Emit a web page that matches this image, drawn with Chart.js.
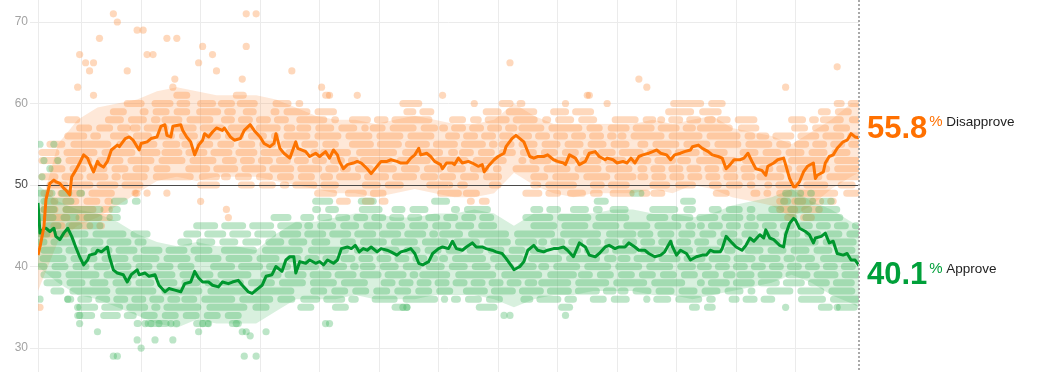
<!DOCTYPE html>
<html><head><meta charset="utf-8">
<script src="https://cdn.jsdelivr.net/npm/chart.js@4.4.1/dist/chart.umd.min.js"></script>
<style>html,body{margin:0;padding:0;background:#fff;overflow:hidden}#wrap{width:1059px;height:372px}</style>
</head><body><div id="wrap"><canvas id="c" width="1059" height="372"></canvas></div>
<script>
// ---------------- data ----------------
const yTicks = [30, 40, 50, 60, 70];
const gridDays = [0, 22, 52, 82, 112, 142, 172, 202, 232, 262, 292, 322, 352, 382];
const lastDay = 414;
const latestDisapprove = 55.8;
const latestApprove = 40.1;
const disapproveLabel = "Disapprove";
const approveLabel = "Approve";

const disapproveTrend = [[0,41.4],[1,42.4],[3,44.9],[4,48.2],[6,50.2],[8,50.6],[9,50.4],[11,50.2],[13,49.6],[14,49.4],[16,48.8],[17,51.0],[19,51.8],[21,52.7],[23,53.7],[25,53.3],[26,52.7],[28,51.6],[30,52.9],[31,52.5],[33,52.2],[35,52.9],[37,54.3],[40,54.9],[41,54.7],[44,55.7],[46,55.9],[48,55.5],[51,54.3],[52,55.1],[55,55.3],[57,55.7],[60,55.9],[62,57.2],[64,57.4],[65,56.1],[67,55.9],[68,57.2],[72,57.4],[73,56.7],[75,55.9],[77,55.3],[79,53.7],[81,54.9],[83,55.5],[84,56.3],[86,55.9],[88,56.5],[90,57.0],[93,56.7],[94,57.0],[97,55.9],[99,55.5],[102,55.7],[104,56.7],[107,57.4],[109,56.7],[112,55.9],[114,55.1],[117,54.7],[119,55.1],[120,56.3],[122,54.5],[124,53.9],[127,53.3],[130,55.3],[131,54.5],
[135,54.1],[137,53.5],[140,53.9],[142,53.5],[145,54.1],[147,53.3],[149,54.3],[151,53.7],[152,52.9],[154,52.0],[156,52.5],[159,52.7],[161,52.9],[163,52.7],[166,52.0],[168,51.4],[171,52.3],[173,52.9],[176,52.9],[178,53.1],[181,52.9],[183,52.7],[186,52.7],[188,53.3],[190,53.7],[192,54.5],[193,53.7],[196,53.9],[198,53.5],[200,52.9],[203,52.5],[204,52.0],[206,52.7],[209,52.7],[210,52.5],[212,53.3],[214,52.7],[217,52.9],[219,52.7],[222,52.3],[224,52.5],[225,51.6],[227,52.3],[230,53.1],[232,53.5],[235,53.9],[236,54.7],[239,55.7],[241,56.1],[243,55.7],[245,55.3],[246,54.7],[248,53.5],[250,53.3],[252,53.5],[255,53.5],[257,53.7],[260,53.1],[262,52.9],[265,52.7],[266,52.5],[268,53.7],[271,53.3],[273,52.5],
[276,52.9],[278,53.9],[281,54.1],[283,53.5],[286,53.1],[287,53.3],[290,53.1],[292,52.7],[295,52.9],[297,52.7],[299,53.3],[301,52.7],[303,53.5],[305,53.7],[308,53.9],[310,54.1],[312,54.3],[314,53.9],[317,53.7],[319,53.1],[321,53.7],[324,53.9],[326,54.1],[329,54.3],[330,54.7],[333,54.9],[335,54.5],[338,54.1],[340,53.7],[343,53.5],[345,53.3],[347,52.0],[349,52.5],[351,53.1],[354,53.1],[356,53.3],[358,53.9],[360,52.9],[362,52.0],[365,51.8],[367,51.2],[368,52.3],[371,52.7],[373,53.1],[376,53.3],[377,52.5],[379,50.8],[381,49.8],[382,49.8],[384,50.4],[386,51.6],[388,52.3],[391,52.7],[392,50.8],[393,51.2],[396,51.6],[397,52.7],[399,53.5],[401,53.7],[403,54.5],[406,55.3],[408,55.5],[410,56.3],[412,55.9],[414,55.8]];

const approveTrend = [[0,47.8],[1,44.1],[3,44.7],[4,44.7],[6,44.3],[8,44.7],[9,43.7],[11,43.3],[13,44.1],[15,44.7],[17,43.7],[19,42.4],[21,41.2],[23,40.2],[25,40.8],[26,41.4],[29,41.6],[30,42.0],[32,41.8],[35,42.4],[36,41.2],[38,39.6],[40,39.2],[43,39.0],[45,38.1],[47,39.0],[50,39.6],[51,39.0],[54,39.2],[56,38.8],[59,39.0],[61,37.7],[64,36.9],[66,37.3],[69,37.1],[72,36.9],[74,37.9],[77,38.1],[79,39.4],[81,38.6],[83,38.1],[86,38.1],[88,37.7],[91,37.5],[93,38.1],[96,37.9],[98,38.1],[101,38.3],[103,37.7],[106,36.9],[108,36.7],[110,37.1],[113,37.7],[115,38.8],[118,39.0],[120,40.0],[123,39.4],[125,40.8],[127,41.2],[129,41.2],[130,39.2],
[132,40.6],[135,40.4],[137,40.8],[140,40.4],[142,40.6],[144,40.2],[146,40.8],[149,40.4],[151,40.8],[153,42.2],[156,42.4],[158,42.2],[160,42.6],[162,41.8],[164,42.2],[166,42.0],[168,42.4],[171,41.8],[173,42.2],[176,42.0],[178,41.8],[181,41.4],[183,41.8],[186,42.0],[188,42.2],[190,41.6],[192,40.4],[194,40.2],[197,40.6],[199,41.6],[202,42.2],[204,42.4],[207,42.2],[209,43.1],[211,42.2],[214,42.0],[216,42.4],[219,42.9],[221,42.4],[224,42.4],[226,42.2],[229,42.0],[231,41.8],[234,41.6],[236,41.0],[239,40.0],[240,39.6],[243,40.0],[245,40.6],[247,42.0],[250,42.6],[252,42.0],[255,41.8],[257,42.0],[260,42.2],[262,42.2],[265,42.4],[267,42.0],[270,41.2],
[273,42.9],[276,42.4],[278,41.4],[281,41.2],[283,41.6],[286,42.4],[288,42.6],[291,42.2],[293,42.4],[296,42.4],[298,42.9],[301,42.4],[303,42.0],[306,42.0],[308,41.6],[311,41.2],[314,41.4],[316,41.8],[319,43.1],[320,42.4],[322,41.4],[324,42.0],[327,41.6],[329,40.8],[332,41.2],[335,41.4],[337,41.4],[339,42.0],[341,41.8],[344,41.8],[345,42.2],[347,43.7],[350,42.9],[352,42.4],[355,42.0],[357,42.6],[359,43.5],[361,43.1],[364,43.9],[366,43.5],[367,44.5],[369,43.5],[371,43.3],[374,42.6],[376,42.4],[377,43.9],[379,45.3],[381,45.9],[382,45.7],[384,44.7],[387,44.3],[389,43.9],[391,42.9],[392,43.5],[395,43.7],[397,44.1],[399,42.9],[401,43.1],[403,41.6],[406,41.4],[408,41.6],[410,40.8],[412,40.8],[414,40.1]];

const bandDays =        [0, 10, 20, 30, 40, 50, 60, 70, 80, 90, 100,110,120,130,140,150,160,170,180,190,200,210,220,230,240,250,260,270,280,290,300,310,320,330,340,350,360,370,380,390,400,410,414];
const disapproveHigh =  [46, 55, 58, 59.5,60, 60.5,61.5,62, 61.5,61, 61, 61, 60.5,59.5,58.5,58, 58, 57.5,58, 58.5,58, 57.5,57.5,58, 60, 58.5,57.5,57.5,57.5,57.5,57.5,58, 57.5,58, 58.5,57, 56.5,56, 55, 56.5,58, 60, 60];
const disapproveLow =   [37, 43, 45, 46, 47.5,49, 50.5,51, 50.5,51, 51, 51, 50.5,50, 49.5,49, 49, 48.5,49, 49.5,49, 48.5,48.5,49, 51.5,50, 49, 48.5,49, 49, 49, 49.5,49, 50, 49.5,48.5,48, 47.5,46, 47.5,49.5,51, 51.5];
const approveHigh =     [50, 48, 47, 46.5,45.5,44, 43, 42.5,43, 42.5,42.5,42, 44, 45.5,45.5,46, 46.5,46.5,46, 46, 46.5,46.5,47, 46.5,45, 46.5,46.5,46.5,46.5,47, 47, 46.5,46.5,46, 46.5,47.5,48, 48.5,49.5,48, 47, 45.5,45];
const approveLow =      [40, 38, 36.5,36, 35, 34, 33, 32.5,33.5,33, 33, 33, 34.5,36, 36, 36, 36.5,36, 36, 36, 36.5,36.5,36.5,36, 35, 36, 36.5,36.5,37, 37, 37, 36.5,36.5,36, 36.5,37, 37.5,38, 39, 38, 36.5,35.5,35];

// poll rows: [value, first day, last day] of runs of polls at the same value
const disapprovePollRows = [[61,70,75],[61,100,104],[61,140,146],
[60,45,52],[60,58,75],[60,82,88],[60,92,98],[60,102,110],[60,117,132],[60,184,192],[60,232,244],[60,315,345],[60,403,413],
[59,38,48],[59,53,75],[59,78,98],[59,105,113],[59,119,149],[59,186,199],[59,226,250],[59,260,281],[59,318,343],[59,395,413],
[58,15,20],[58,35,60],[58,64,90],[58,94,127],[58,132,150],[58,154,175],[58,180,200],[58,205,222],[58,226,252],[58,256,283],[58,287,310],[58,314,340],[58,344,361],[58,380,392],[58,396,413],
[57,21,45],[57,48,128],[57,132,165],[57,169,200],[57,204,240],[57,244,283],[57,287,330],[57,334,362],[57,380,413],
[56,15,30],[56,34,120],[56,124,200],[56,204,290],[56,294,360],[56,364,413],
[55,6,70],[55,74,150],[55,154,230],[55,234,300],[55,304,370],[55,374,413],
[54,2,60],[54,64,140],[54,144,210],[54,214,280],[54,284,350],[54,354,413],
[53,2,90],[53,94,160],[53,164,240],[53,244,320],[53,324,413],
[52,2,70],[52,74,150],[52,154,232],[52,236,300],[52,304,370],[52,374,413],
[51,2,40],[51,44,90],[51,94,140],[51,144,200],[51,204,236],[51,250,300],[51,304,360],[51,364,413],
[50,3,56],[50,82,90],[50,100,125],[50,130,150],[50,160,185],[50,195,215],[50,225,232],[50,250,270],[50,280,300],[50,310,330],[50,340,360],[50,368,400],[50,405,413],
[49,3,37],[49,45,50],[49,141,150],[49,156,174],[49,203,212],[49,216,226],[49,246,262],[49,266,283],[49,290,307],[49,309,317],[49,337,347],[49,361,368],[49,374,413],
[48,8,36],[48,149,156],[48,165,175],[48,218,226],[48,374,401],
[47,3,36],[47,374,394],[46,4,36],[46,378,390],[45,8,32],[44,2,14]];

const approvePollRows = [[49,1,8],[49,12,22],[49,150,153],[49,300,304],[49,376,390],
[48,3,20],[48,38,50],[48,140,150],[48,160,172],[48,200,206],[48,280,290],[48,320,330],[48,376,400],
[47,3,40],[47,140,150],[47,160,172],[47,180,200],[47,210,232],[47,250,262],[47,270,283],[47,290,300],[47,310,330],[47,340,360],[47,370,405],
[46,1,40],[46,119,130],[46,134,232],[46,246,300],[46,304,360],[46,364,410],
[45,1,36],[45,79,132],[45,136,232],[45,246,330],[45,334,413],
[44,1,55],[44,75,200],[44,204,300],[44,304,413],
[43,1,53],[43,72,150],[43,154,250],[43,254,340],[43,344,413],
[42,1,90],[42,94,170],[42,174,260],[42,264,350],[42,354,413],
[41,1,120],[41,124,200],[41,204,290],[41,294,380],[41,384,413],
[40,1,80],[40,84,160],[40,164,250],[40,254,330],[40,334,413],
[39,3,110],[39,114,190],[39,194,270],[39,274,350],[39,354,413],
[38,3,90],[38,94,170],[38,174,250],[38,254,330],[38,334,413],
[37,8,130],[37,134,210],[37,214,290],[37,294,360],[37,364,413],
[36,15,70],[36,74,128],[36,134,160],[36,170,200],[36,210,235],[36,245,270],[36,280,300],[36,312,340],[36,350,370],[36,385,413],
[35,18,60],[35,65,115],[35,130,140],[35,150,155],[35,175,190],[35,220,230],[35,260,270],[35,330,340],[35,395,413],
[34,20,40],[34,45,105],[33,50,70],[33,80,90],[33,98,102]];

// single polls away from the runs: [day, value]
const disapproveOutliers = [[38,71],[40,70],[105,71],[110,71],[50,69],[53,69],[65,68],[70,68],[31,68],[83,67],[105,67],[21,66],[55,66],[58,66],[88,66],[24,65],[28,65],[81,65],[26,64],[45,64],[90,64],[128,64],[69,63],[103,63],[20,62],[68,62],[28,61],
[238,65],[143,62],[147,61],[161,61],[204,61],[277,61],[220,60],[266,60],[403,64.5],[303,63],[307,62],[377,62],[278,61],[287,60],
[1,35],[95,47],[96,46],[49,49],[55,49],[82,48],[65,49]];
const approveOutliers = [[38,29],[40,29],[104,29],[110,29],[52,30],[50,31],[59,31],[68,31],[30,32],[107,31.5],[103,32],[105,32],[115,32],[81,32],[145,33],[21,33],[54,33],[57,33],[61,33],[67,33],[83,33],[86,33],[100,33],[184,35],[235,34],[205,36],[147,33],[238,34],[266,34],[186,35],[377,35],[403,35],[307,36],[1,55],[8,55],[1,36],[15,36],[20,35],[21,34],[3,53],[6,52],[2,51],[10,53]];

// ---------------- rendering ----------------
const ORANGE = '#fd7300', GREEN = '#00972e';
const ORANGE_TXT = '#ff7000', GREEN_TXT = '#00a03a';
const ORANGE_DOT = 'rgba(252,140,60,0.34)', GREEN_DOT = 'rgba(60,180,90,0.34)';
const ORANGE_BAND = 'rgba(252,140,60,0.2)', GREEN_BAND = 'rgba(60,180,90,0.2)';
const DASHES = [[12,11],[20,11],[8,10],[27,11],[15,10],[34,12],[10,11],[18,10]];

const pts = a => a.map(([x, y]) => ({x, y}));
const band = vals => bandDays.map((d, i) => ({x: d, y: vals[i]}));
const rows = list => { const out = []; list.forEach(([v, a, b]) => { out.push({x: a, y: v}, {x: b, y: v}, {x: b, y: null}); }); return out; };

const bandStyle = {borderWidth: 0, pointRadius: 0, tension: 0};
const rowStyle = {borderWidth: 7, borderCapStyle: 'round', pointRadius: 0, fill: false, spanGaps: false, tension: 0,
  segment: {
    borderDash: c => DASHES[Math.floor(c.p0DataIndex / 3) % DASHES.length],
    borderDashOffset: c => (Math.floor(c.p0DataIndex / 3) * 13) % 29
  }};

const refLines = {
  id: 'refLines',
  beforeDatasetDraw(chart, args) {
    if (chart.data.datasets[args.index].id !== 'approveLine') return;
    const {ctx, chartArea: a, scales: {y}} = chart;
    const py = Math.round(y.getPixelForValue(50)) + 0.5;
    ctx.save(); ctx.strokeStyle = '#4a4a4a'; ctx.lineWidth = 1;
    ctx.beginPath(); ctx.moveTo(a.left, py); ctx.lineTo(a.right, py); ctx.stroke(); ctx.restore();
  },
  afterDatasetsDraw(chart) {
    const {ctx, scales: {x}} = chart;
    const px = Math.round(x.getPixelForValue(lastDay));
    ctx.save(); ctx.strokeStyle = '#a9a9a9'; ctx.lineWidth = 2; ctx.setLineDash([2, 2]);
    ctx.beginPath(); ctx.moveTo(px, 0); ctx.lineTo(px, chart.height); ctx.stroke(); ctx.restore();
  },
  afterDraw(chart) {
    const {ctx, chartArea: a, scales: {y}} = chart;
    const x0 = a.right + 8;
    const draw = (val, base, color, label) => {
      ctx.save(); ctx.textBaseline = 'alphabetic'; ctx.textAlign = 'left';
      ctx.font = 'bold 31px "Liberation Sans", Arial, sans-serif'; ctx.fillStyle = color;
      const t = val.toFixed(1); ctx.fillText(t, x0, base);
      const w = ctx.measureText(t).width;
      ctx.font = '15px "Liberation Sans", Arial, sans-serif';
      ctx.fillText('%', x0 + w + 2, base - 11.5);
      ctx.font = '13.5px "Liberation Sans", Arial, sans-serif'; ctx.fillStyle = '#222';
      ctx.fillText(label, x0 + w + 19, base - 11.5);
      ctx.restore();
    };
    draw(latestDisapprove, y.getPixelForValue(latestDisapprove), ORANGE_TXT, disapproveLabel);
    draw(latestApprove, y.getPixelForValue(latestApprove) + 18.6, GREEN_TXT, approveLabel);
  }
};

new Chart(document.getElementById('c'), {
  type: 'line',
  data: {datasets: [
    {id: 'dHi', data: band(disapproveHigh), fill: '+1', backgroundColor: ORANGE_BAND, ...bandStyle, order: 9},
    {id: 'dLo', data: band(disapproveLow), fill: false, ...bandStyle, order: 8},
    {id: 'aHi', data: band(approveHigh), fill: '+1', backgroundColor: GREEN_BAND, ...bandStyle, order: 7},
    {id: 'aLo', data: band(approveLow), fill: false, ...bandStyle, order: 6},
    {id: 'dRows', data: rows(disapprovePollRows), borderColor: ORANGE_DOT, ...rowStyle, order: 5},
    {id: 'aRows', data: rows(approvePollRows), borderColor: GREEN_DOT, ...rowStyle, order: 4},
    {id: 'dOut', data: pts(disapproveOutliers), showLine: false, pointRadius: 3.6, pointBorderWidth: 0, pointBackgroundColor: ORANGE_DOT, order: 3},
    {id: 'aOut', data: pts(approveOutliers), showLine: false, pointRadius: 3.6, pointBorderWidth: 0, pointBackgroundColor: GREEN_DOT, order: 2},
    {id: 'approveLine', data: pts(approveTrend), borderColor: GREEN, borderWidth: 3, pointRadius: 0, fill: false, tension: 0, borderJoinStyle: 'round', order: 1},
    {id: 'disapproveLine', data: pts(disapproveTrend), borderColor: ORANGE, borderWidth: 3, pointRadius: 0, fill: false, tension: 0, borderJoinStyle: 'round', order: 0}
  ]},
  options: {
    responsive: false, animation: false, devicePixelRatio: 1, events: [],
    layout: {autoPadding: false, padding: {left: 0, right: 200, top: 0, bottom: 0}},
    plugins: {legend: {display: false}, tooltip: {enabled: false}},
    scales: {
      x: {type: 'linear', min: 0, max: lastDay,
        afterBuildTicks: s => { s.ticks = gridDays.map(v => ({value: v})); },
        ticks: {display: false}, grid: {color: '#ebebeb', drawTicks: false}, border: {display: false},
        afterFit: s => { s.height = 0; s.paddingLeft = 0; s.paddingRight = 0; }},
      y: {type: 'linear', min: 27.06, max: 72.7,
        afterBuildTicks: s => { s.ticks = yTicks.map(v => ({value: v})); },
        ticks: {padding: 2, color: c => c.tick && c.tick.value === 50 ? '#4a4a4a' : '#a3a3a3',
          font: {size: 12, family: '"Liberation Sans", Arial, sans-serif'}},
        grid: {color: '#ebebeb', tickLength: 8}, border: {display: false},
        afterFit: s => { s.width = 38; s.paddingTop = 0; s.paddingBottom = 0; }}
    }
  },
  plugins: [refLines]
});
</script></body></html>
